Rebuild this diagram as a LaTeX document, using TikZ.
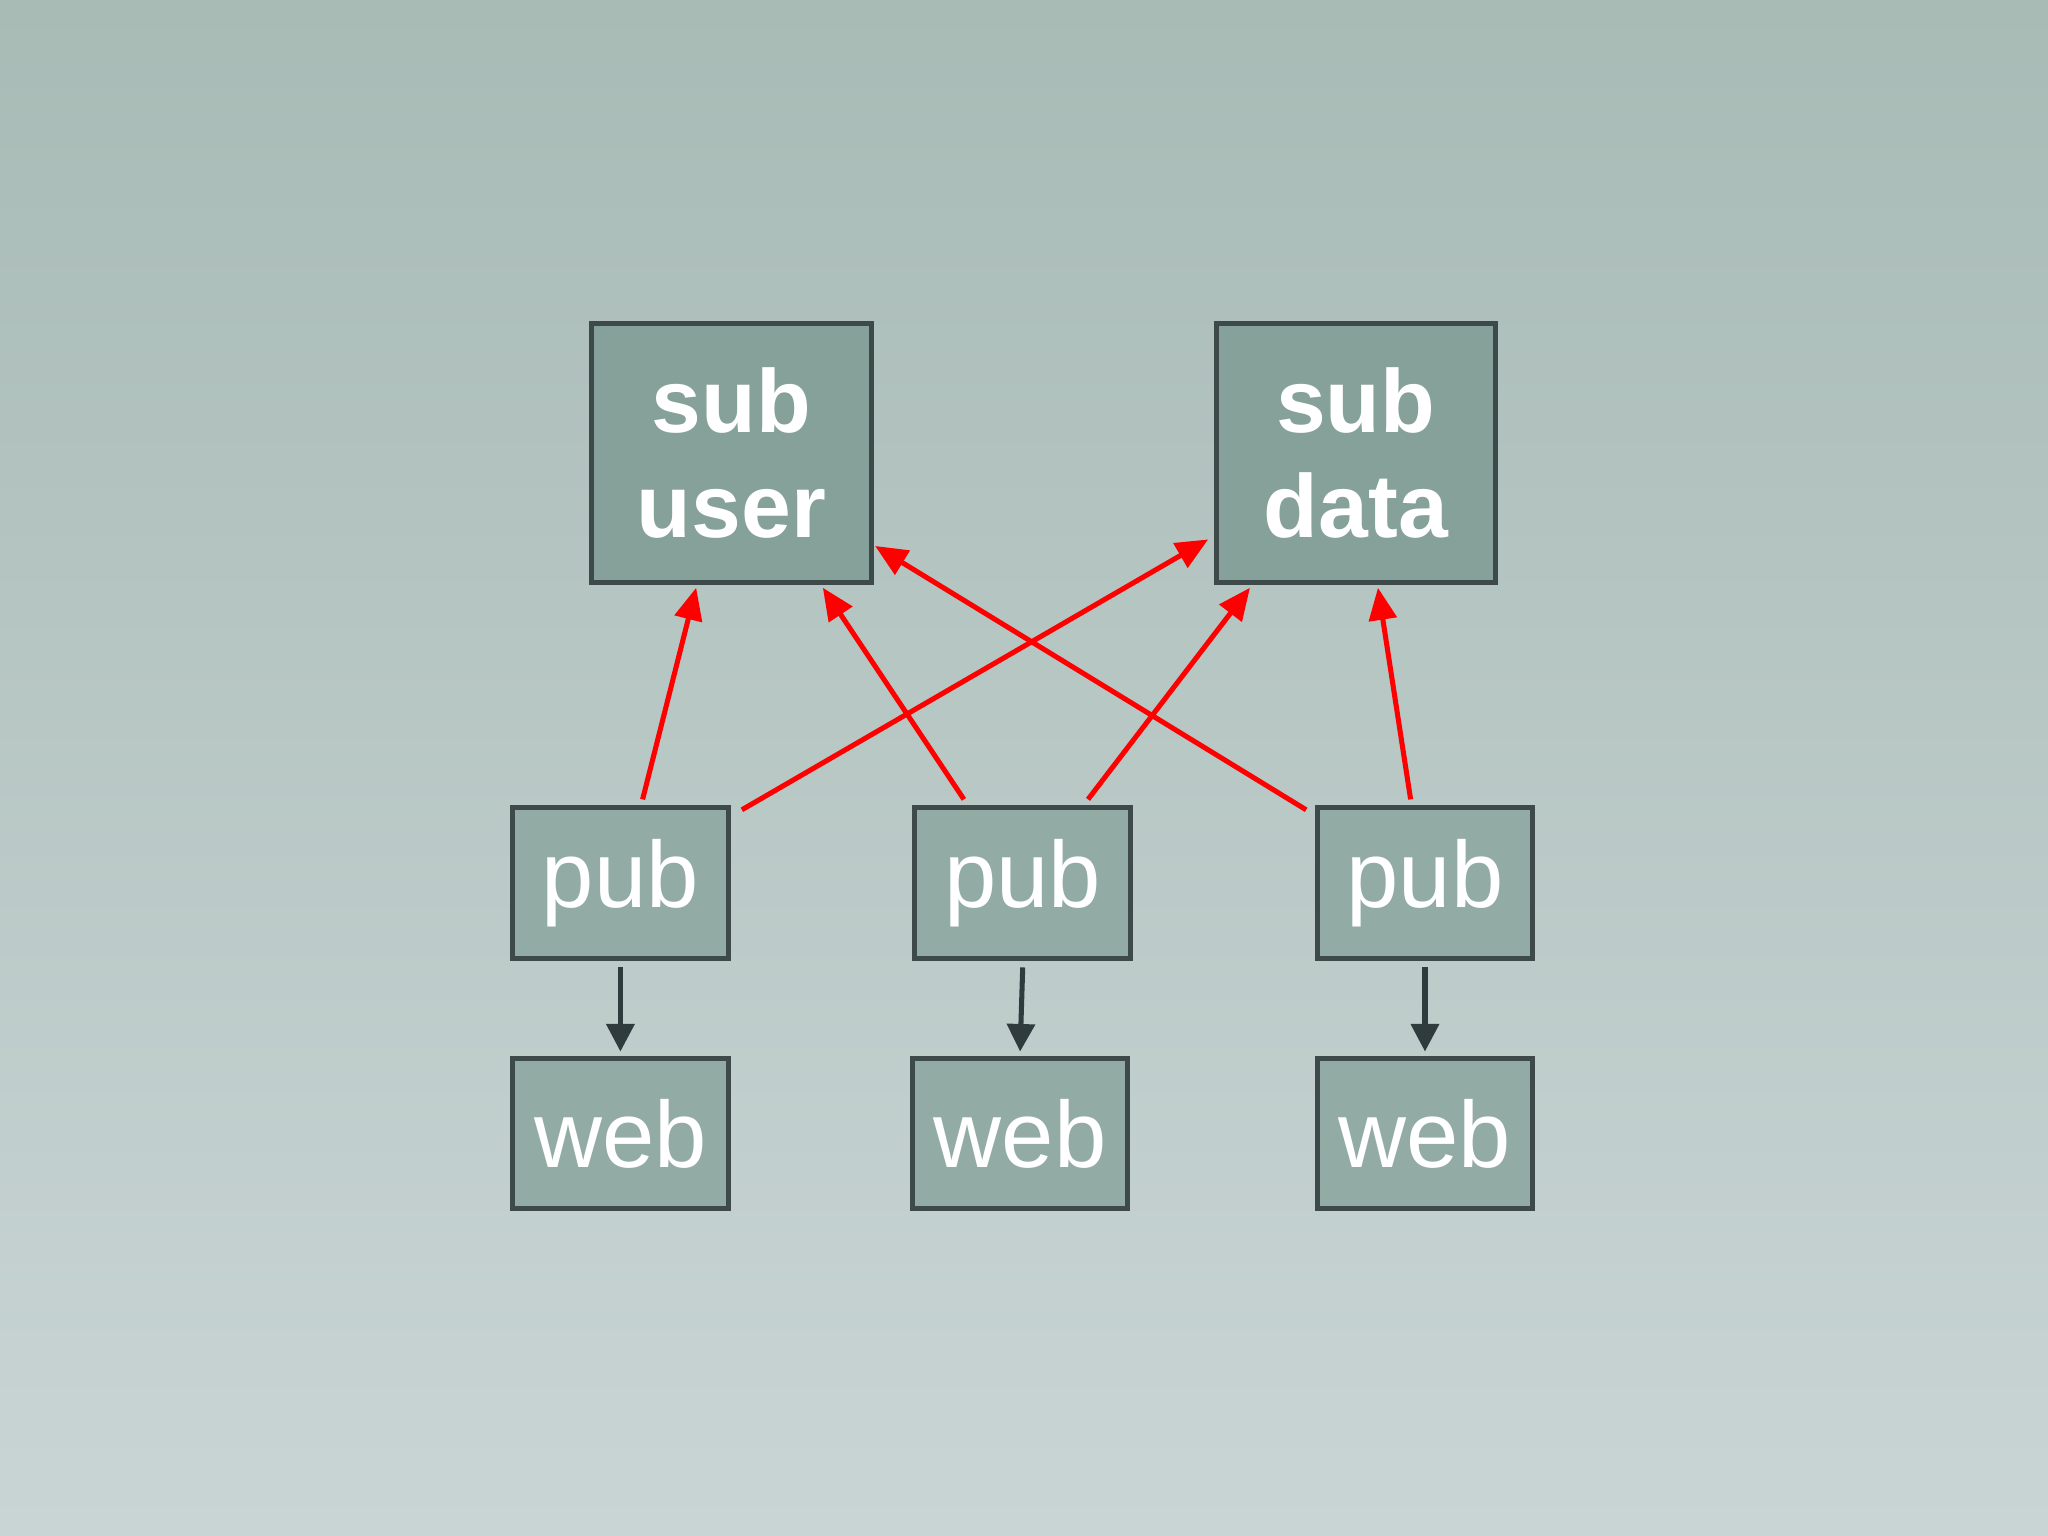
\documentclass[tikz,border=0pt]{standalone}
\usepackage{fontspec}
\setmainfont{Liberation Sans}
\usetikzlibrary{arrows.meta,shadings}
\definecolor{bgtop}{HTML}{A8BBB5}
\definecolor{bgbot}{HTML}{C9D5D5}
\definecolor{subfill}{HTML}{86A09A}
\definecolor{pubfill}{HTML}{93ABA5}
\definecolor{edge}{HTML}{3E4949}
\definecolor{darrow}{HTML}{2F3B3C}
\begin{document}
\begin{tikzpicture}[x=0.02cm,y=-0.02cm,
  subbox/.style={draw=edge,line width=2.2pt,fill=subfill,minimum width=4.28cm,minimum height=3.96cm,text=white,font=\bfseries\fontsize{39}{46}\selectfont,align=center,inner sep=0pt},
  pubbox/.style={draw=edge,line width=2.2pt,fill=pubfill,minimum width=3.3cm,minimum height=2.3cm,text=white,font=\fontsize{41}{46}\selectfont,inner sep=0pt},
  redarrow/.style={draw=red,line width=2.2pt,-{Triangle[length=14pt,width=12pt]}},
  darkarrow/.style={draw=darrow,line width=2.2pt,-{Triangle[length=12pt,width=12pt]}}]
\shade[top color=bgtop,bottom color=bgbot] (0,0) rectangle (1568,1176);
\useasboundingbox (0,0) rectangle (1568,1176);
\node[subbox] (su) at (560,347) {sub\\user};
\node[subbox] (sd) at (1038,347) {sub\\data};
\node[pubbox] (p1) at (475,676) {pub};
\node[pubbox] (p2) at (783,676) {pub};
\node[pubbox] (p3) at (1091,676) {pub};
\node[pubbox] (w1) at (475,868) {web};
\node[pubbox] (w2) at (781,868) {web};
\node[pubbox] (w3) at (1091,868) {web};
\coordinate (a1s) at (492,612); \coordinate (a1e) at (533,450);
\coordinate (a2s) at (568,620); \coordinate (a2e) at (925,413);
\coordinate (a3s) at (738,612); \coordinate (a3e) at (630,450);
\coordinate (a4s) at (833,612); \coordinate (a4e) at (957,450);
\coordinate (a5s) at (1000,620); \coordinate (a5e) at (670,418);
\coordinate (a6s) at (1080,612); \coordinate (a6e) at (1055,450);
\draw[redarrow] (a1s) -- (a1e);
\draw[redarrow] (a2s) -- (a2e);
\draw[redarrow] (a3s) -- (a3e);
\draw[redarrow] (a4s) -- (a4e);
\draw[redarrow] (a5s) -- (a5e);
\draw[redarrow] (a6s) -- (a6e);
\draw[darkarrow] ([yshift=-3pt]p1.south) -- ([yshift=2pt]w1.north);
\draw[darkarrow] ([yshift=-3pt]p2.south) -- ([yshift=2pt]w2.north);
\draw[darkarrow] ([yshift=-3pt]p3.south) -- ([yshift=2pt]w3.north);
\end{tikzpicture}
\end{document}
